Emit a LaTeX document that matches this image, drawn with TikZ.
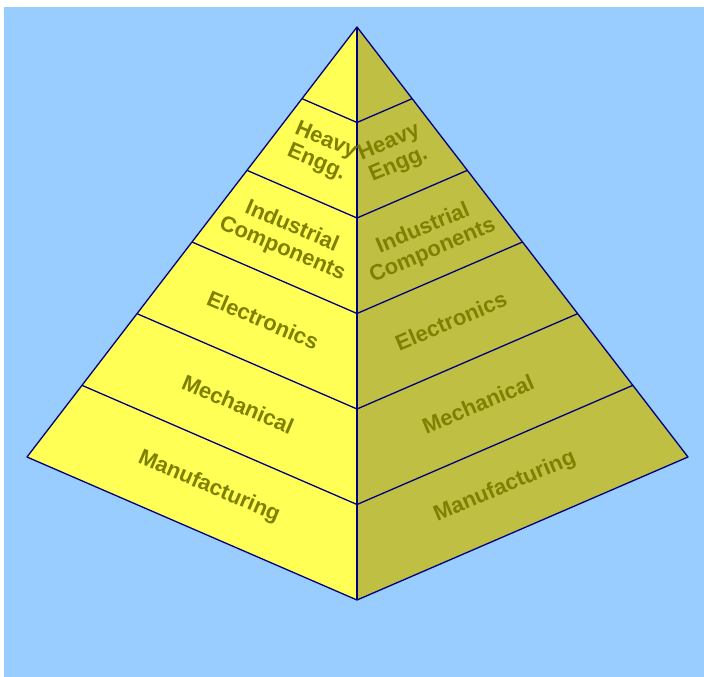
\documentclass[tikz,border=0pt]{standalone}
\usepackage{fontspec}
\setmainfont{Liberation Sans}
\usetikzlibrary{calc}
\definecolor{bgblue}{HTML}{99CCFF}
\definecolor{leftface}{HTML}{FFFF55}
\definecolor{rightface}{HTML}{BFBF44}
\definecolor{olivetext}{HTML}{808000}
\definecolor{edgenavy}{HTML}{000080}
\tikzset{
  edge/.style={draw=edgenavy, line width=1.3pt, line join=round},
  lbl/.style={text=olivetext, font=\fontsize{22}{24}\selectfont\bfseries, align=center, inner sep=0pt},
  lefttext/.style={lbl, rotate=-23},
  righttext/.style={lbl, rotate=23}
}
\begin{document}
\begin{tikzpicture}[x=1pt,y=-1pt]
\useasboundingbox (0,0) rectangle (704,677);
\fill[bgblue] (4,7) rectangle (704,677);
\coordinate (A) at (357,27);
\coordinate (L) at (27,457);
\coordinate (R) at (688,457);
\coordinate (B) at (357,600);
\fill[leftface] (A) -- (L) -- (B) -- cycle;
\fill[rightface] (A) -- (R) -- (B) -- cycle;
\foreach \k in {1,...,5} {
  \coordinate (l\k) at ($(A)!\k/6!(L)$);
  \coordinate (r\k) at ($(A)!\k/6!(R)$);
  \coordinate (c\k) at ($(A)!\k/6!(B)$);
  \draw[edge] (l\k) -- (c\k) -- (r\k);
}
\draw[edge] (A) -- (L) -- (B) -- (R) -- cycle;
\draw[edge] (A) -- (B);
\node[lefttext] (hl) at (321,152) {Heavy\\Engg.};
\node[righttext] (hr) at (394,154) {Heavy\\Engg.};
\node[lefttext] (il) at (287,238) {Industrial\\Components};
\node[righttext] (ir) at (428,240) {Industrial\\Components};
\node[lefttext] (el) at (263,320) {Electronics};
\node[righttext] (er) at (451,321) {Electronics};
\node[lefttext] (ml) at (238,404) {Mechanical};
\node[righttext] (mr) at (478,404) {Mechanical};
\node[lefttext] (fl) at (209,487) {Manufacturing};
\node[righttext] (fr) at (505,487) {Manufacturing};
\end{tikzpicture}
\end{document}
